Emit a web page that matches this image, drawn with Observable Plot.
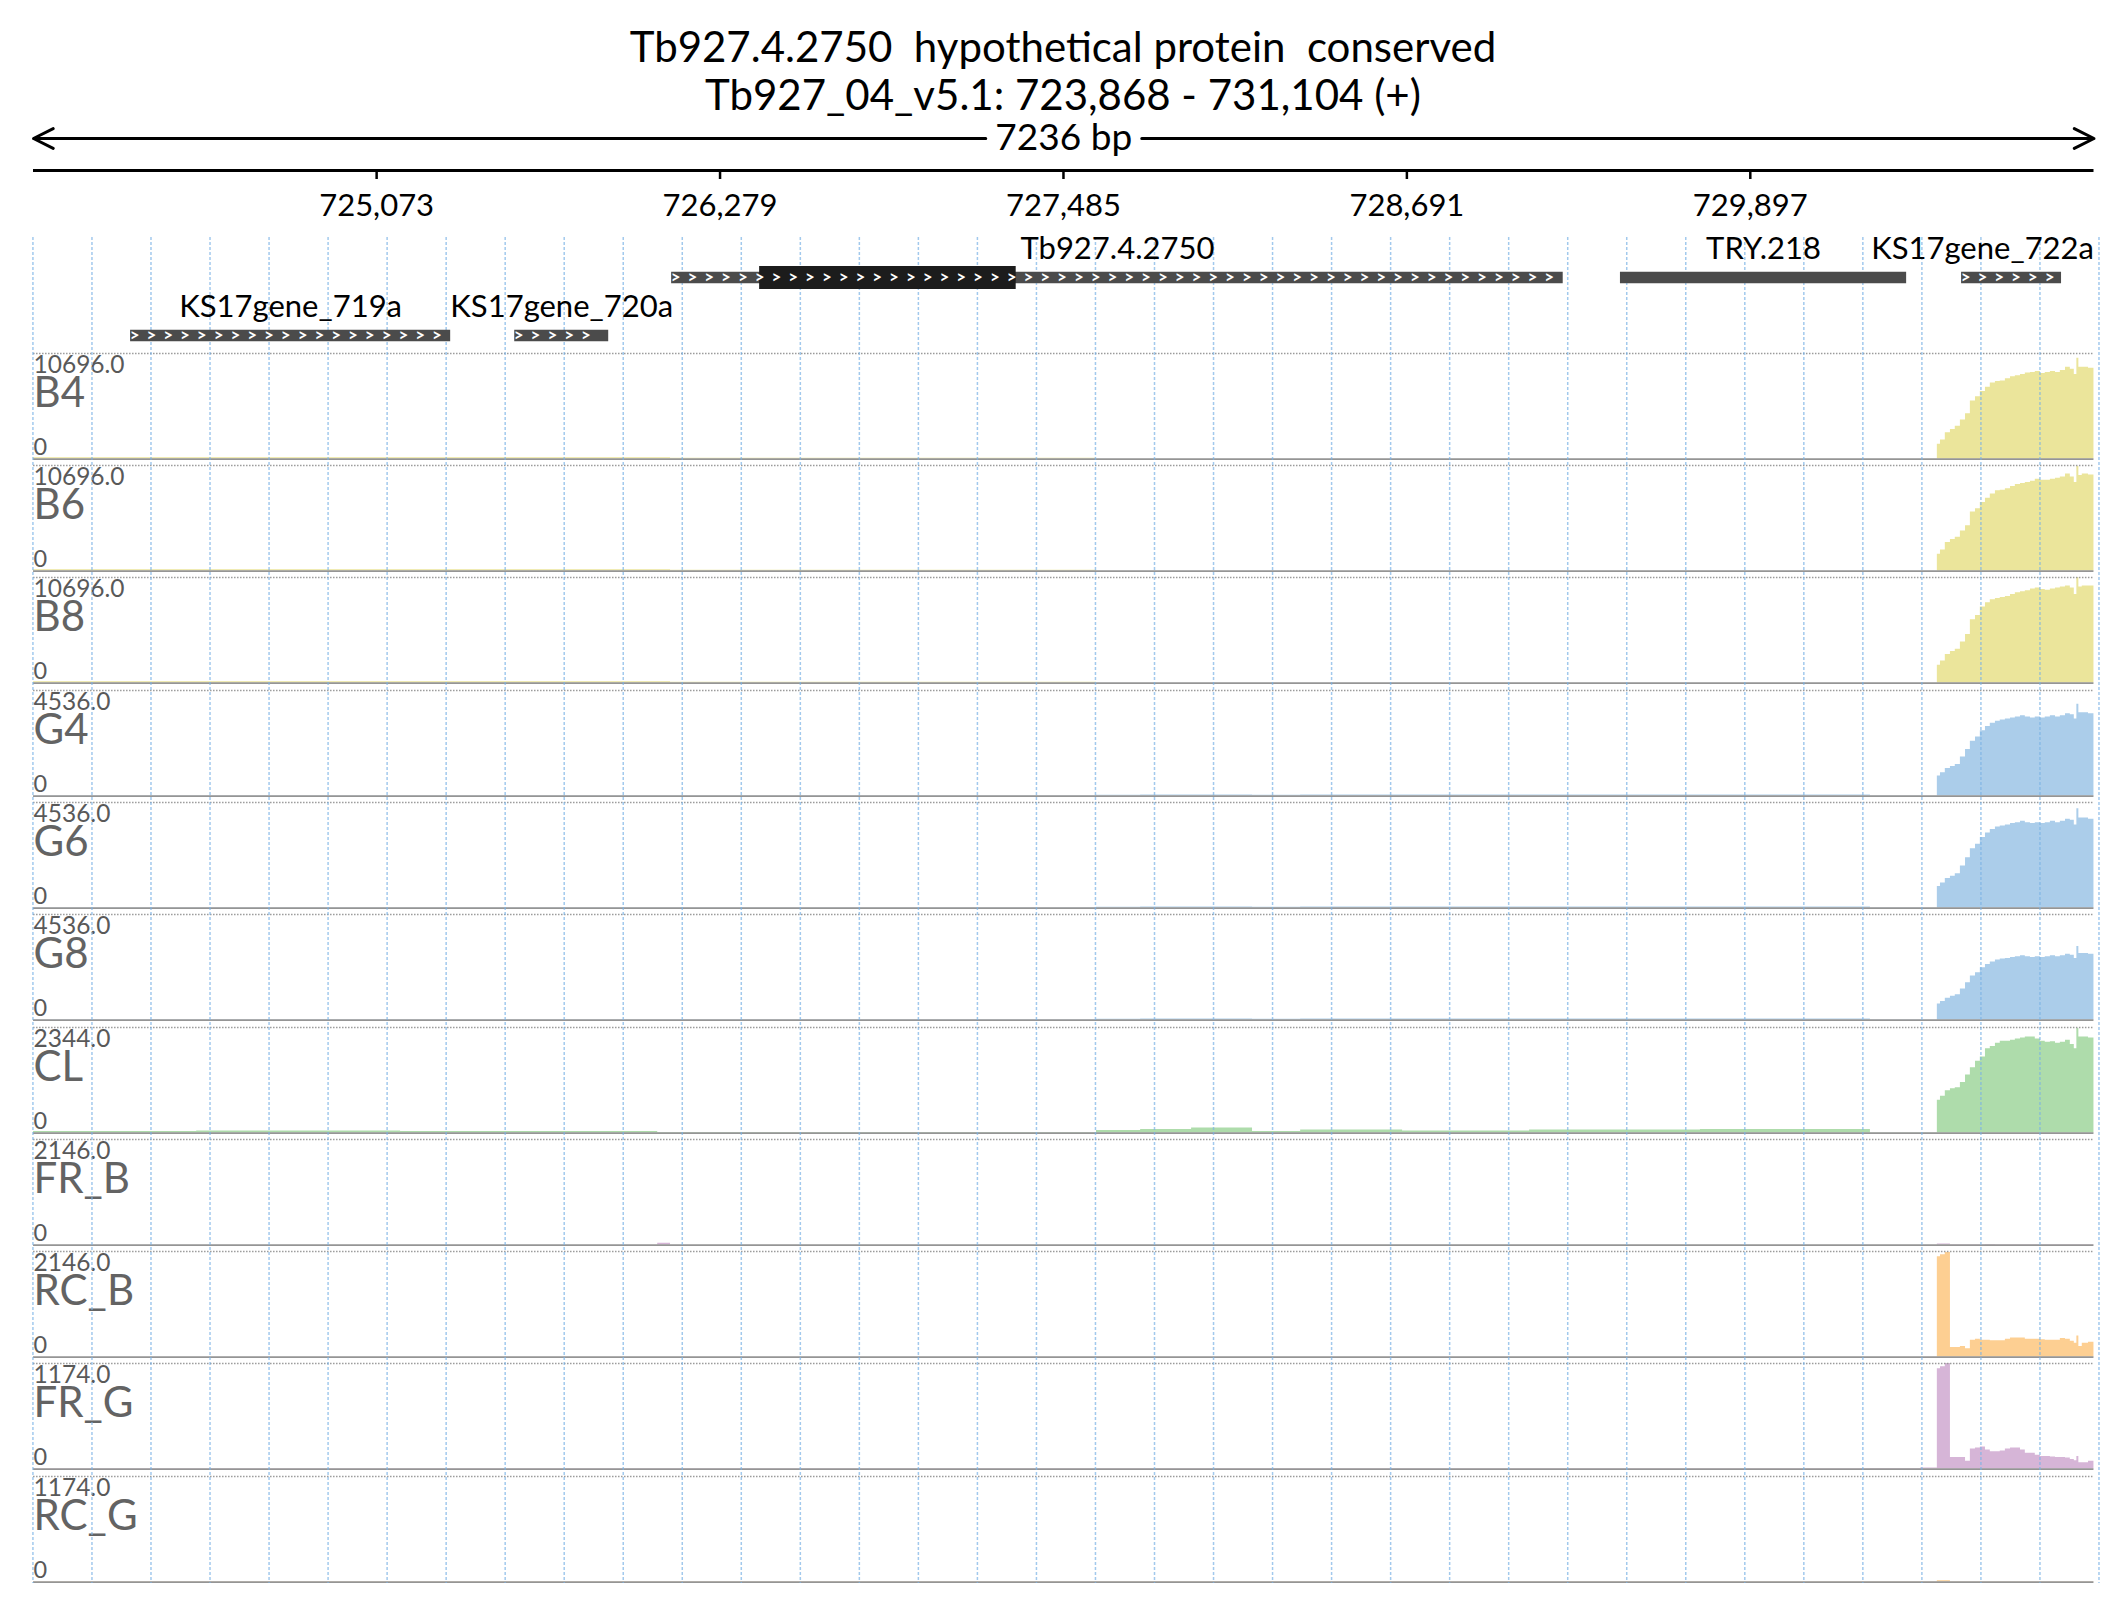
<!DOCTYPE html>
<html>
<head>
<meta charset="utf-8">
<script src="https://cdn.jsdelivr.net/npm/d3@7"></script>
<script src="https://cdn.jsdelivr.net/npm/@observablehq/plot@0.6"></script>
<style>
  html, body { margin: 0; padding: 0; background: #fff; overflow: hidden; }
  #root { position: relative; width: 2126px; height: 1619px; font-family: Lato, sans-serif; }
  #root > * { position: absolute; left: 0; }
  .title { width: 2126px; text-align: center; font-size: 42px; line-height: 48px; white-space: pre; color: #000; }
</style>
</head>
<body>
<div id="root"></div>
<script>
// ---------------- data ----------------
const viewStart = 723868, viewEnd = 731104;
const titleGene = "Tb927.4.2750  hypothetical protein  conserved";
const titleLocus = "Tb927_04_v5.1: 723,868 - 731,104 (+)";
const spanLabel = "7236 bp";
const rulerTicks = [725073, 726279, 727485, 728691, 729897];

const geneNames  = ["Tb927.4.2750", "TRY.218", "KS17gene_722a", "KS17gene_719a", "KS17gene_720a"];
const geneStart  = [726109, 729441, 730639, 724209, 725558];
const geneEnd    = [729240, 730446, 730990, 725333, 725888];
const geneRow    = [1, 1, 1, 2, 2];
const geneArrows = [true, false, true, true, true];
const cdsStart   = [726418, null, null, null, null];
const cdsEnd     = [727319, null, null, null, null];

const trackNames  = ["B4", "B6", "B8", "G4", "G6", "G8", "CL", "FR_B", "RC_B", "FR_G", "RC_G"];
const trackMax    = [10696, 10696, 10696, 4536, 4536, 4536, 2344, 2146, 2146, 1174, 1174];
const trackColors = ["#ebe59b", "#ebe59b", "#ebe59b", "#abcdea", "#abcdea", "#abcdea", "#aedcab", "#d6b5d7", "#fdcf92", "#d6b5d7", "#fdcf92"];

// coverage breakpoints (bp), step-after
const covPos = [
  723868, 724441, 725157, 726060, 726105, 727601, 727756, 727935, 728149, 728318, 728676, 729122, 729722, 730319, 730495,
  730554, 730565, 730582, 730600, 730617, 730635, 730653, 730670, 730688, 730705, 730723, 730740, 730758, 730775, 730793, 730811,
  730828, 730846, 730863, 730881, 730898, 730916, 730933, 730951, 730969, 730986, 731004, 731021, 731035, 731044, 731051, 731063, 731085
];
const covB4 = [130, 140, 130, 130, 90, 20, 20, 20, 20, 20, 20, 20, 20, 10, 5,
  1500, 1930, 2670, 3000, 3320, 3960, 4600, 5880, 6310, 6850, 7270, 7700, 7860, 7920, 8130, 8340,
  8450, 8560, 8720, 8770, 8880, 8660, 8770, 8880, 8770, 8980, 9310, 9090, 8560, 10210, 9310, 9310, 9200];
const covB6 = [130, 140, 130, 130, 90, 20, 20, 20, 20, 20, 20, 20, 20, 10, 5,
  1710, 2140, 2890, 3210, 3420, 4060, 4600, 5990, 6310, 6950, 7380, 7810, 8130, 8180, 8340, 8560,
  8770, 8880, 8980, 9090, 9310, 9200, 9200, 9310, 9410, 9520, 9840, 9520, 8980, 10590, 9680, 9840, 9730];
const covB8 = [130, 140, 130, 130, 90, 20, 20, 20, 20, 20, 20, 20, 20, 10, 5,
  1820, 2250, 2890, 3210, 3420, 4170, 4920, 6420, 6850, 7700, 8130, 8450, 8560, 8660, 8770, 8980,
  9150, 9250, 9360, 9520, 9630, 9470, 9410, 9520, 9630, 9730, 9840, 9630, 8980, 10690, 9730, 9840, 9840];
const covG4 = [20, 20, 20, 20, 20, 40, 45, 45, 40, 45, 45, 50, 50, 15, 5,
  860, 1000, 1180, 1270, 1360, 1680, 2000, 2360, 2540, 2810, 2990, 3130, 3220, 3270, 3310, 3360,
  3400, 3450, 3400, 3360, 3400, 3360, 3400, 3450, 3400, 3450, 3540, 3490, 3310, 3950, 3580, 3580, 3540];
const covG6 = [20, 20, 20, 20, 20, 40, 45, 45, 40, 45, 45, 50, 50, 15, 5,
  930, 1080, 1270, 1370, 1470, 1810, 2160, 2550, 2740, 3030, 3230, 3380, 3480, 3530, 3570, 3630,
  3670, 3730, 3670, 3630, 3670, 3630, 3670, 3730, 3670, 3730, 3820, 3770, 3570, 4270, 3870, 3870, 3820];
const covG8 = [20, 20, 20, 20, 20, 40, 45, 45, 40, 45, 45, 50, 50, 15, 5,
  690, 800, 940, 1020, 1090, 1340, 1600, 1890, 2030, 2250, 2390, 2500, 2580, 2620, 2650, 2690,
  2720, 2760, 2720, 2690, 2720, 2690, 2720, 2760, 2720, 2760, 2830, 2790, 2650, 3160, 2860, 2860, 2830];
const covCL = [33, 44, 33, 15, 15, 55, 78, 111, 33, 67, 44, 67, 78, 7, 5,
  727, 820, 938, 984, 1008, 1125, 1289, 1453, 1594, 1688, 1875, 1922, 1992, 2039, 2039, 2063,
  2086, 2110, 2133, 2133, 2086, 2039, 2016, 2028, 1992, 2016, 2063, 1969, 1875, 2320, 2133, 2133, 2110];
const covFR_B = [4, 4, 4, 40, 4, 4, 4, 4, 4, 4, 4, 4, 4, 4, 4,
  22, 22, 22, 5, 5, 5, 5, 5, 5, 5, 12, 12, 5, 5, 5, 5,
  5, 5, 5, 5, 5, 5, 5, 5, 5, 5, 5, 5, 5, 5, 5, 5, 5];
const covRC_B = [4, 4, 4, 4, 4, 4, 4, 4, 4, 4, 4, 4, 4, 4, 4,
  2040, 2080, 2125, 193, 193, 215, 172, 343, 365, 343, 343, 333, 333, 333, 365, 386,
  386, 386, 365, 365, 365, 354, 343, 343, 343, 376, 365, 322, 279, 429, 215, 279, 300];
const covFR_G = [4, 4, 4, 4, 4, 4, 4, 4, 4, 4, 4, 4, 4, 6, 11,
  1115, 1139, 1174, 129, 129, 129, 88, 223, 235, 247, 211, 194, 194, 200, 223, 235,
  235, 211, 176, 176, 153, 141, 141, 135, 129, 129, 123, 106, 94, 141, 70, 70, 88];
const covRC_G = [3, 3, 3, 3, 3, 3, 3, 3, 3, 3, 3, 3, 3, 3, 3,
  14, 14, 14, 3, 3, 3, 3, 3, 3, 3, 3, 3, 3, 3, 3, 3,
  3, 3, 3, 3, 3, 3, 3, 3, 3, 3, 3, 3, 3, 3, 3, 3, 3];
const trackValues = [covB4, covB6, covB8, covG4, covG6, covG8, covCL, covFR_B, covRC_B, covFR_G, covRC_G];

// ---------------- layout ----------------
const W = 2126, ML = 33, MR = 32.5;
const baseStyle = {background: "transparent", fontFamily: "Lato, sans-serif", overflow: "visible"};
const root = document.getElementById("root");
const pxPerBp = (W - ML - MR) / (viewEnd - viewStart);

function place(el, top) { el.style.top = top + "px"; root.append(el); }

// coverage tracks
const trackTop0 = 352.7, trackPitch = 112.3, trackH = 105.6, padTop = 14, padBottom = 4;
trackNames.forEach((name, i) => {
  const vals = trackValues[i];
  const data = covPos.map((p, j) => ({pos: p, v: vals[j]}));
  data.push({pos: viewEnd, v: vals[vals.length - 1]});
  const plot = Plot.plot({
    width: W, height: trackH + padTop + padBottom,
    marginLeft: ML, marginRight: MR, marginTop: padTop, marginBottom: padBottom,
    x: {domain: [viewStart, viewEnd], axis: null},
    y: {domain: [0, trackMax[i]], axis: null},
    style: baseStyle,
    marks: [
      Plot.areaY(data, {x: "pos", y: "v", curve: "step-after", fill: trackColors[i]}),
      Plot.ruleY([trackMax[i]], {stroke: "#9b9b9b", strokeWidth: 1.5, strokeDasharray: "1.5,1.5"}),
      Plot.ruleY([0], {stroke: "#959595", strokeWidth: 1.6}),
      Plot.text([d3.format(".1f")(trackMax[i])], {text: d => d, frameAnchor: "top-left", textAnchor: "start", lineAnchor: "top", dy: 2, fontSize: 24.5, fill: "#595959"}),
      Plot.text([name], {text: d => d, frameAnchor: "top-left", textAnchor: "start", lineAnchor: "middle", dy: 40, fontSize: 42, fill: "#636363"}),
      Plot.text(["0"], {text: d => d, frameAnchor: "bottom-left", textAnchor: "start", lineAnchor: "bottom", dy: -4, fontSize: 23.5, fill: "#595959"})
    ]
  });
  place(plot, trackTop0 + i * trackPitch - padTop);
});

// grid
const gridStart = 723866, gridStep = 207.3;
const gridPos = d3.range(36).map(k => gridStart + k * gridStep);
place(Plot.plot({
  width: W, height: 1583, marginTop: 237, marginBottom: 0, marginLeft: ML, marginRight: MR,
  x: {domain: [viewStart, viewEnd], axis: null},
  style: baseStyle,
  marks: [Plot.ruleX(gridPos, {stroke: "#7ab2e6", strokeOpacity: 0.7, strokeWidth: 1.5, strokeDasharray: "3,2"})]
}), 0);

// genes
const genes = geneNames.map((name, i) => {
  const center = (geneStart[i] + geneEnd[i]) / 2;
  const halfBp = (name.length * 9) / pxPerBp;
  const clampEnd = center + halfBp > viewEnd;
  return {name, start: geneStart[i], end: geneEnd[i], row: geneRow[i], arrows: geneArrows[i],
    cdsStart: cdsStart[i], cdsEnd: cdsEnd[i],
    lx: clampEnd ? viewEnd : center, clampEnd};
});
const cds = genes.filter(g => g.cdsStart != null);
const chevrons = genes.filter(g => g.arrows).flatMap(g => d3.range(g.start + 14, g.end - 28, 59).map(x => ({x, row: g.row})));
const labelOpts = {x: "lx", y: "row", text: "name", lineAnchor: "bottom", dy: -18.5, fontSize: 31, fill: "#000"};
place(Plot.plot({
  width: W, height: 350, marginLeft: ML, marginRight: MR, marginTop: 0, marginBottom: 0,
  x: {domain: [viewStart, viewEnd], axis: null},
  y: {type: "point", domain: [1, 2], range: [277, 335], padding: 0, axis: null},
  style: baseStyle,
  marks: [
    Plot.ruleY(genes, {x1: "start", x2: "end", y: "row", stroke: "#4b4b4b", strokeWidth: 11.5}),
    Plot.ruleY(cds, {x1: "cdsStart", x2: "cdsEnd", y: "row", stroke: "#1c1c1c", strokeWidth: 23}),
    Plot.text(chevrons, {x: "x", y: "row", text: () => ">", fill: "white", fontSize: 17, fontWeight: "bold"}),
    Plot.text(genes.filter(g => !g.clampEnd), {...labelOpts, textAnchor: "middle"}),
    Plot.text(genes.filter(g => g.clampEnd), {...labelOpts, textAnchor: "end"})
  ]
}), 0);

// ruler / span arrow
const center = (viewStart + viewEnd) / 2;
const gapBp = 78 / pxPerBp;
const spanArrows = [{from: center - gapBp, to: viewStart}, {from: center + gapBp, to: viewEnd}];
place(Plot.plot({
  width: W, height: 237, marginLeft: ML, marginRight: MR, marginTop: 0, marginBottom: 67,
  x: {domain: [viewStart, viewEnd]},
  y: {type: "point", domain: ["span", "ruler"], range: [138, 170], padding: 0, axis: null},
  style: baseStyle,
  marks: [
    Plot.arrow(spanArrows, {x1: "from", x2: "to", y1: () => "span", y2: () => "span", stroke: "black", strokeWidth: 3, headLength: 11, headAngle: 53}),
    Plot.text([spanLabel], {text: d => d, x: () => center, y: () => "span", fontSize: 37, fill: "black"}),
    Plot.ruleY(["ruler"], {stroke: "black", strokeWidth: 3}),
    Plot.axisX({ticks: rulerTicks, tickFormat: d3.format(","), anchor: "bottom", tickSize: 9, tickPadding: 14, fontSize: 31, strokeWidth: 2.5, stroke: "black", fill: "black", label: null})
  ]
}), 0);

// title
const t1 = document.createElement("div"); t1.className = "title"; t1.textContent = titleGene; place(t1, 21.5);
const t2 = document.createElement("div"); t2.className = "title"; t2.textContent = titleLocus; place(t2, 69.5);
</script>
</body>
</html>
